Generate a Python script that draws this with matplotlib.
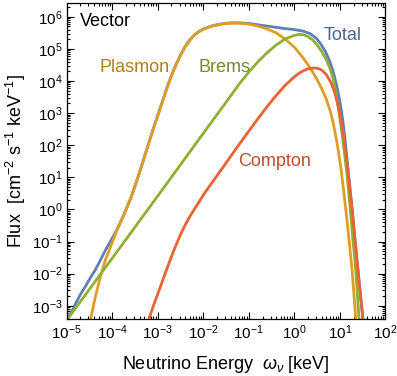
import numpy as np
import matplotlib
matplotlib.use("Agg")
from matplotlib import pyplot as plt
from matplotlib.ticker import FixedLocator, NullFormatter

plt.rcParams['font.family'] = ['Liberation Sans', 'DejaVu Sans']
plt.rcParams['mathtext.fontset'] = 'custom'
plt.rcParams['mathtext.rm'] = 'Liberation Sans'
plt.rcParams['mathtext.it'] = 'Liberation Sans:italic'

# curves, as log10(energy / keV) and log10(flux)
plasmonLogE = [-4.48, -4.37, -4.26, -4.15, -4.00, -3.90, -3.80, -3.70, -3.60, -3.50,
               -3.40, -3.30, -3.20, -3.10, -3.00, -2.90, -2.80, -2.70, -2.60, -2.50,
               -2.40, -2.30, -2.20, -2.10, -2.00, -1.80, -1.60, -1.40, -1.20, -1.00,
               -0.80, -0.60, -0.40, -0.20, 0.00, 0.10, 0.20, 0.30, 0.40, 0.50,
               0.60, 0.70, 0.80, 0.88, 0.95, 1.02, 1.08, 1.14, 1.20, 1.27, 1.36]
plasmonLogF = [-3.44, -2.72, -2.09, -1.57, -1.03, -0.66, -0.35, -0.02, 0.32, 0.72,
               1.15, 1.60, 2.05, 2.50, 2.92, 3.35, 3.77, 4.16, 4.50, 4.80,
               5.06, 5.26, 5.42, 5.53, 5.61, 5.71, 5.77, 5.80, 5.80, 5.77,
               5.71, 5.62, 5.50, 5.30, 5.05, 4.88, 4.70, 4.50, 4.28, 4.04,
               3.76, 3.44, 3.00, 2.50, 1.95, 1.30, 0.60, -0.15, -0.95, -1.95, -3.65]

bremsLogE = [-5.00, -4.00, -3.00, -2.00, -1.50, -1.20, -1.00, -0.80, -0.60, -0.40,
             -0.20, 0.00, 0.10, 0.20, 0.30, 0.40, 0.50, 0.60, 0.70, 0.78,
             0.85, 0.92, 0.98, 1.04, 1.10, 1.16, 1.22, 1.28, 1.35, 1.43]
bremsLogF = [-3.45, -1.52, 0.42, 2.37, 3.34, 3.93, 4.28, 4.60, 4.88, 5.12,
             5.31, 5.42, 5.45, 5.44, 5.38, 5.28, 5.12, 4.92, 4.66, 4.40,
             4.08, 3.55, 3.02, 2.42, 1.75, 1.02, 0.10, -0.85, -1.95, -3.65]

comptonLogE = [-3.25, -3.10, -3.00, -2.90, -2.80, -2.70, -2.60, -2.50, -2.40, -2.30,
               -2.20, -2.10, -2.00, -1.80, -1.60, -1.40, -1.20, -1.00, -0.80, -0.60,
               -0.40, -0.20, 0.00, 0.10, 0.20, 0.30, 0.40, 0.50, 0.60, 0.70,
               0.80, 0.88, 0.95, 1.02, 1.08, 1.14, 1.20, 1.27, 1.34, 1.42, 1.52]
comptonLogF = [-3.65, -3.02, -2.63, -2.24, -1.85, -1.47, -1.11, -0.78, -0.49, -0.23,
               0.00, 0.22, 0.45, 0.85, 1.25, 1.65, 2.05, 2.44, 2.83, 3.20,
               3.55, 3.87, 4.13, 4.24, 4.32, 4.38, 4.40, 4.40, 4.34, 4.20,
               3.96, 3.66, 3.28, 2.82, 2.30, 1.65, 0.90, -0.05, -1.10, -2.25, -3.65]

totalLogE = [-5.00, -4.93, -4.81, -4.70, -4.59, -4.48, -4.37, -4.26, -4.15, -4.01,
             -3.90, -3.80, -3.70, -3.60, -3.50, -3.40, -3.30, -3.20, -3.10, -3.00,
             -2.90, -2.80, -2.70, -2.60, -2.50, -2.40, -2.30, -2.20, -2.10, -2.00,
             -1.80, -1.60, -1.40, -1.20, -1.00, -0.80, -0.60, -0.40, -0.20, 0.00,
             0.20, 0.35, 0.48, 0.58, 0.68, 0.78, 0.86, 0.94, 1.00, 1.06,
             1.11, 1.16, 1.21, 1.27, 1.34, 1.42, 1.52]
totalLogF = [-3.45, -3.30, -2.95, -2.65, -2.40, -2.13, -1.88, -1.58, -1.27, -0.92,
             -0.64, -0.34, -0.01, 0.33, 0.73, 1.16, 1.61, 2.06, 2.51, 2.93,
             3.36, 3.78, 4.17, 4.51, 4.81, 5.07, 5.27, 5.43, 5.54, 5.62,
             5.72, 5.78, 5.81, 5.81, 5.79, 5.75, 5.71, 5.67, 5.63, 5.60,
             5.55, 5.47, 5.33, 5.15, 4.92, 4.60, 4.25, 3.78, 3.35, 2.80,
             2.20, 1.50, 0.80, -0.02, -1.07, -2.22, -3.62]

colTotal   = '#5E81B5'
colPlasmon = '#E19C24'
colBrems   = '#8FB032'
colCompton = '#EB6235'

fig = plt.figure(figsize=(3.97, 3.76), dpi=100)
ax = fig.add_axes([0.168, 0.151, 0.803, 0.842])

lw = 2.0
ax.plot(10**np.array(totalLogE), 10**np.array(totalLogF), color=colTotal, lw=lw)
ax.plot(10**np.array(plasmonLogE), 10**np.array(plasmonLogF), color=colPlasmon, lw=lw)
ax.plot(10**np.array(bremsLogE), 10**np.array(bremsLogF), color=colBrems, lw=lw)
ax.plot(10**np.array(comptonLogE), 10**np.array(comptonLogF), color=colCompton, lw=lw)

ax.set_xscale('log')
ax.set_yscale('log')

ax.set_xticks([10.0**k for k in range(-5, 3)])
ax.set_yticks([10.0**k for k in range(-3, 7)])
ax.xaxis.set_minor_locator(FixedLocator([m * 10.0**k for k in range(-5, 2) for m in range(2, 10)]))
ax.yaxis.set_minor_locator(FixedLocator([m * 10.0**k for k in range(-4, 7) for m in range(2, 10)
                                         if 10**-3.42 < m * 10.0**k < 10**6.44]))
ax.xaxis.set_minor_formatter(NullFormatter())
ax.yaxis.set_minor_formatter(NullFormatter())
ax.set_xlim(1e-5, 1e2)
ax.set_ylim(10**-3.42, 10**6.44)

ax.tick_params(which='both', direction='in', top=True, right=True, labelsize=11, width=0.8)
ax.tick_params(which='major', length=5, pad=3)
ax.tick_params(which='minor', length=2.5)
for s in ax.spines.values():
    s.set_linewidth(0.9)

ax.set_xlabel(r'Neutrino Energy  $\omega_\nu$ [keV]', fontsize=13, labelpad=9)
ax.set_ylabel(r'Flux  [cm$^{-2}$ s$^{-1}$ keV$^{-1}$]', fontsize=13, labelpad=3)

ax.text(0.042, 0.939, 'Vector', transform=ax.transAxes, fontsize=13, ha='left', va='center', color='black')
ax.text(0.214, 0.794, 'Plasmon', transform=ax.transAxes, fontsize=13, ha='center', va='center', color='#B37D1C')
ax.text(0.494, 0.794, 'Brems', transform=ax.transAxes, fontsize=13, ha='center', va='center', color='#728D29')
ax.text(0.864, 0.895, 'Total', transform=ax.transAxes, fontsize=13, ha='center', va='center', color='#4B6791')
ax.text(0.652, 0.497, 'Compton', transform=ax.transAxes, fontsize=13, ha='center', va='center', color='#BC4E2A')

fig.savefig('out.png', dpi=100)
